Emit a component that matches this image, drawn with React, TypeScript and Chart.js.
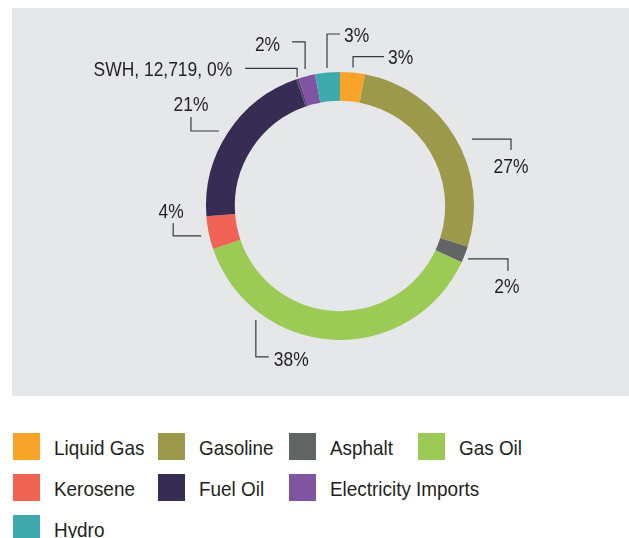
import React, { useEffect, useRef } from "react";
import { Chart, registerables } from "chart.js";

Chart.register(...registerables);

// ---- Data ----
const categories = [
  "Liquid Gas",
  "Gasoline",
  "Asphalt",
  "Gas Oil",
  "Kerosene",
  "Fuel Oil",
  "SWH",
  "Electricity Imports",
  "Hydro",
];
const shares = [3, 27, 2, 38, 4, 21, 0.3, 2, 3];
const sliceLabels = ["3%", "27%", "2%", "38%", "4%", "21%", "SWH, 12,719, 0%", "2%", "3%"];
const colors = [
  "#F8A42B",
  "#9C9A4A",
  "#636466",
  "#9BCB55",
  "#F16354",
  "#372C54",
  "#5A3F7A",
  "#7F55A1",
  "#3FAAAD",
];
const legendHidden = ["SWH"];

// ---- Label layout (leader geometry relative to each arc) ----
type LeaderCfg = {
  frac: number;
  r: number;
  path: [number, number][];
  align: CanvasTextAlign;
  tdx: number;
  tdy: number;
};
const leaders: LeaderCfg[] = [
  { frac: 0.5, r: 139, path: [[0, -11], [31, 0]], align: "left", tdx: 4, tdy: 2 },
  { frac: 0.54, r: 148, path: [[39, 0], [0, 11]], align: "center", tdx: 0, tdy: 17 },
  { frac: 0.67, r: 138.5, path: [[40, 0], [0, 12]], align: "center", tdx: -1, tdy: 16 },
  { frac: 0.745, r: 141.6, path: [[0, 37], [13, 0]], align: "left", tdx: 5, tdy: 3 },
  { frac: 0.46, r: 142, path: [[-28, 0], [0, -13]], align: "center", tdx: -2, tdy: -11 },
  { frac: 0.48, r: 142.4, path: [[-28, 0], [0, -14]], align: "center", tdx: 0, tdy: -12 },
  { frac: 0.6, r: 136, path: [[0, -8.5], [-52, 0]], align: "right", tdx: -13, tdy: 2 },
  { frac: 0.51, r: 141.4, path: [[0, -27], [-13, 0]], align: "right", tdx: -12, tdy: 3.5 },
  { frac: 0.5, r: 138.6, path: [[0, -34], [13, 0]], align: "left", tdx: 4, tdy: 2.5 },
];

const FONT_FAMILY = '"Liberation Sans", Arial, sans-serif';
const TEXT_COLOR = "#231F20";
const LABEL_SCALE_X = 0.83;
const LEGEND_SCALE_X = 0.9;

const leaderPlugin = {
  id: "leaderLabels",
  afterDatasetsDraw(chart: any) {
    const ctx: CanvasRenderingContext2D = chart.ctx;
    const meta = chart.getDatasetMeta(0);
    ctx.save();
    meta.data.forEach((arc: any, i: number) => {
      const cfg = leaders[i];
      if (!cfg) return;
      const { x, y, startAngle, endAngle } = arc.getProps(["x", "y", "startAngle", "endAngle"], true);
      const a = startAngle + cfg.frac * (endAngle - startAngle);
      let px = x + cfg.r * Math.cos(a);
      let py = y + cfg.r * Math.sin(a);
      ctx.beginPath();
      ctx.strokeStyle = "#3A3A3A";
      ctx.lineWidth = 1.2;
      ctx.moveTo(px, py);
      cfg.path.forEach(([dx, dy]) => {
        px += dx;
        py += dy;
        ctx.lineTo(px, py);
      });
      ctx.stroke();
      ctx.save();
      ctx.translate(px + cfg.tdx, py + cfg.tdy);
      ctx.scale(LABEL_SCALE_X, 1);
      ctx.fillStyle = TEXT_COLOR;
      ctx.font = `21px ${FONT_FAMILY}`;
      ctx.textAlign = cfg.align;
      ctx.textBaseline = "middle";
      ctx.fillText(sliceLabels[i], 0, 0);
      ctx.restore();
    });
    ctx.restore();
  },
};

function DonutChart() {
  const ref = useRef<HTMLCanvasElement | null>(null);
  useEffect(() => {
    if (!ref.current) return;
    const chart = new Chart(ref.current, {
      type: "doughnut",
      data: {
        labels: categories,
        datasets: [
          {
            data: shares,
            backgroundColor: colors,
            borderWidth: 0,
          },
        ],
      },
      options: {
        responsive: false,
        animation: false,
        cutout: "78.5%",
        layout: { padding: { left: 194, top: 64, right: 155, bottom: 56 } },
        plugins: {
          legend: { display: false },
          tooltip: { enabled: false },
        },
      },
      plugins: [leaderPlugin],
    });
    return () => chart.destroy();
  }, []);
  return <canvas ref={ref} width={617} height={388} style={{ display: "block" }} />;
}

function Legend() {
  const items = categories
    .map((c, i) => ({ label: c, color: colors[i] }))
    .filter((it) => !legendHidden.includes(it.label));
  return (
    <div
      style={{
        position: "absolute",
        left: 13,
        top: 433,
        display: "grid",
        gridTemplateColumns: "145px 131px 129px auto",
        gridAutoRows: "41px",
        width: 610,
      }}
    >
      {items.map((it) => (
        <div
          key={it.label}
          style={{
            display: "flex",
            alignItems: "flex-start",
            gridColumn: it.label.length > 12 ? "span 2" : undefined,
          }}
        >
          <div style={{ width: 27, height: 27, background: it.color, flex: "0 0 27px" }} />
          <div
            style={{
              marginLeft: 14,
              fontFamily: FONT_FAMILY,
              fontSize: 21,
              color: TEXT_COLOR,
              lineHeight: "30px",
              whiteSpace: "nowrap",
              transform: `scaleX(${LEGEND_SCALE_X})`,
              transformOrigin: "left center",
            }}
          >
            {it.label}
          </div>
        </div>
      ))}
    </div>
  );
}

export default function App() {
  return (
    <div
      style={{
        position: "fixed",
        left: 0,
        top: 0,
        width: 629,
        height: 538,
        overflow: "hidden",
        background: "#FFFFFF",
      }}
    >
      <div
        style={{
          position: "absolute",
          left: 12,
          top: 8,
          width: 617,
          height: 388,
          background: "#E6E7E8",
        }}
      >
        <DonutChart />
      </div>
      <Legend />
    </div>
  );
}
